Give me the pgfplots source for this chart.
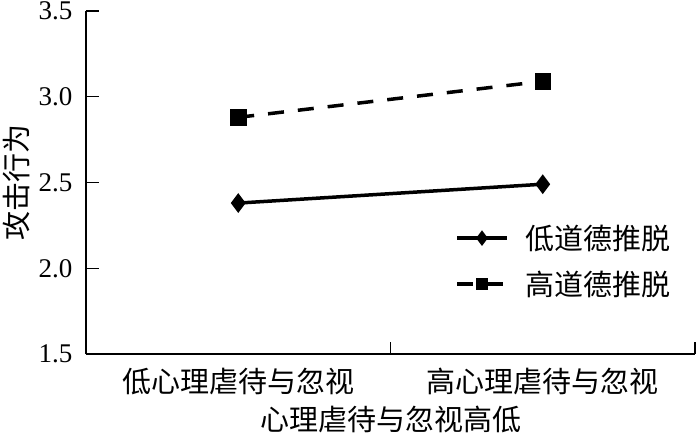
\documentclass[border=0pt]{standalone}
\usepackage{pgfplots}
\pgfplotsset{compat=1.18}
\usepackage{fontspec}
\setmainfont{Liberation Serif}
\newfontfamily\cjk{Noto Sans CJK SC}
\begin{document}
\begin{tikzpicture}
\begin{axis}[
  at={(0,0)}, anchor=south west,
  scale only axis,
  width=609bp, height=343bp,
  xmin=0.5, xmax=2.5, ymin=1.5, ymax=3.5,
  axis lines=left,
  axis line style={-, line width=1.4bp, black},
  tick style={line width=1.4bp, black},
  tick align=inside,
  ytick={1.5,2.0,2.5,3.0,3.5},
  yticklabels={1.5,2.0,2.5,3.0,3.5},
  major tick length=13bp,
  xtick={1,2},
  xticklabels={{\cjk 低心理虐待与忽视},{\cjk 高心理虐待与忽视}},
  x tick style={draw=none},
  extra x ticks={1.5,2.5},
  extra x tick labels={},
  extra x tick style={x tick style={draw=black, line width=1.4bp}, major tick length=12bp},
  /pgf/number format/assume math mode=true,
  tick label style={font=\fontsize{27bp}{32bp}\selectfont},
  xticklabel style={font=\fontsize{29bp}{34bp}\selectfont, yshift=-11bp},
  yticklabel style={xshift=-10bp},
  label style={font=\fontsize{29bp}{34bp}\selectfont},
  xlabel={\cjk 心理虐待与忽视高低},
  ylabel={\cjk 攻击行为},
  xlabel style={yshift=-4bp},
  ylabel style={yshift=2bp},
  clip=false,
  legend style={at={(0.606,0.385)}, anchor=north west, draw=none, fill=none,
    font=\fontsize{29bp}{34bp}\selectfont, row sep=14bp, inner sep=0pt,
    nodes={inner sep=3bp},
    /tikz/every odd column/.append style={column sep=14bp}},
  legend cell align=left,
  legend image code/.code={
    \draw[#1, every mark/.append style={scale=0.7}, mark repeat=2, mark phase=2] plot coordinates {(0bp,0bp) (25bp,0bp) (50bp,0bp)};
  },
]
\addplot[black, line width=3.5bp, mark=diamond*, mark size=7bp, mark options={solid}]
  coordinates {(1,2.38) (2,2.49)};
\addlegendentry{\cjk 低道德推脱}
\addplot[black, line width=3.5bp, dash pattern=on 16bp off 14bp, mark=square*, mark size=6.5bp, mark options={solid}]
  coordinates {(1,2.88) (2,3.09)};
\addlegendentry{\cjk 高道德推脱}
\end{axis}
\pgfresetboundingbox
\path[use as bounding box] (-86bp,-79bp) rectangle (614bp,354bp);
\end{tikzpicture}
\end{document}
